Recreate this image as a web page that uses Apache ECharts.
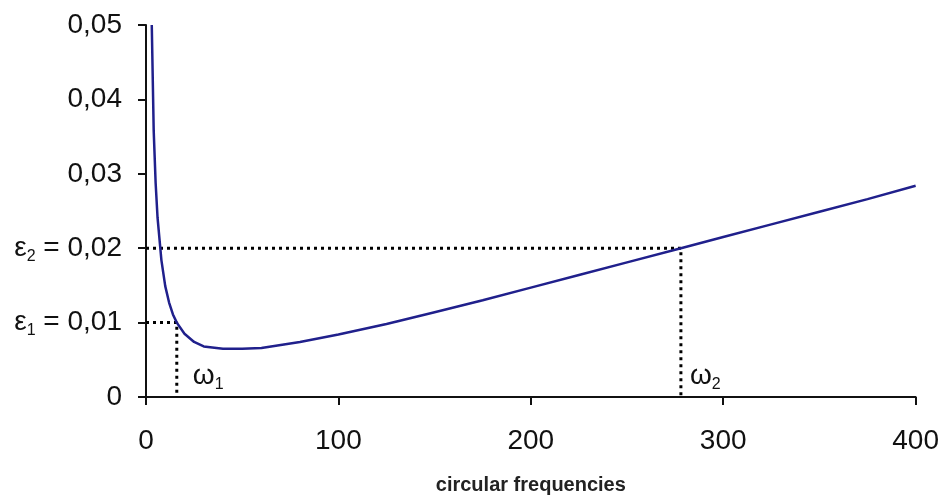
<!DOCTYPE html>
<html>
<head>
<meta charset="utf-8">
<style>
  html, body { margin: 0; padding: 0; background: #fff; }
  #chart { width: 942px; height: 500px; }
</style>
<script src="https://cdn.jsdelivr.net/npm/echarts@6/dist/echarts.min.js"></script>
</head>
<body>
<div id="chart"></div>
<script>
// values
const omega = [3, 4, 5, 6, 8, 10, 12, 14, 16, 20, 25, 30, 40, 50, 60, 80, 100, 125, 150, 175, 200, 225, 250, 278, 300, 325, 350, 375, 400];
const damping = [0.0500, 0.0358, 0.0288, 0.0241, 0.0184, 0.0149, 0.0127, 0.0111, 0.0100, 0.0085, 0.0074, 0.0068, 0.0065, 0.0065, 0.0066, 0.0074, 0.0084, 0.0098, 0.0114, 0.0130, 0.0147, 0.0164, 0.0181, 0.0200, 0.0215, 0.0232, 0.0249, 0.0266, 0.0284];

const omega1 = 16, eps1 = 0.01;
const omega2 = 278, eps2 = 0.02;
const omegaLabelY = 0.0028;

const fontFam = '"Liberation Sans", Arial, sans-serif';

function dotted(points) {
    return {
        type: 'line',
        data: points,
        symbol: 'none',
        silent: true,
        lineStyle: { color: '#000', width: 3, type: [3, 4] },
        z: 1
    };
}

const myChart = echarts.init(document.getElementById('chart'));

const rich = {
    e: { fontSize: 28, fontFamily: fontFam, color: '#111' },
    s: { fontSize: 16, fontFamily: fontFam, color: '#111', verticalAlign: 'bottom', padding: [16, 0, 0, 0] },
    n: { fontSize: 28, fontFamily: fontFam, color: '#111' }
};

const option = {
    animation: false,
    grid: { left: 146, right: 26, top: 25, bottom: 102 },
    xAxis: {
        type: 'value',
        min: 0,
        max: 400,
        interval: 100,
        name: 'circular frequencies',
        nameLocation: 'middle',
        nameGap: 78,
        nameTextStyle: { fontFamily: fontFam, fontSize: 20, fontWeight: 'bold', color: '#222' },
        axisLine: { lineStyle: { color: '#111', width: 2 } },
        axisTick: { length: 8, lineStyle: { color: '#111', width: 2 } },
        axisLabel: { fontFamily: fontFam, fontSize: 28, color: '#111', margin: 30 },
        splitLine: { show: false }
    },
    yAxis: {
        type: 'value',
        min: 0,
        max: 0.05,
        interval: 0.01,
        axisLine: { show: true, lineStyle: { color: '#111', width: 2 } },
        axisTick: { show: true, length: 8, lineStyle: { color: '#111', width: 2 } },
        axisLabel: {
            fontFamily: fontFam,
            fontSize: 28,
            color: '#111',
            margin: 24,
            rich: rich,
            formatter: function (v) {
                if (v === 0) return '{n|0}';
                const txt = v.toFixed(2).replace('.', ',');
                if (Math.abs(v - eps1) < 1e-9) return '{e|ε}{s|1}{n| = ' + txt + '}';
                if (Math.abs(v - eps2) < 1e-9) return '{e|ε}{s|2}{n| = ' + txt + '}';
                return '{n|' + txt + '}';
            }
        },
        splitLine: { show: false }
    },
    series: [
        dotted([[0, eps1], [omega1, eps1], [omega1, 0]]),
        dotted([[0, eps2], [omega2, eps2], [omega2, 0]]),
        {
            type: 'line',
            data: omega.map((w, i) => [w, damping[i]]),
            symbol: 'none',
            smooth: false,
            lineStyle: { color: '#20208c', width: 2.5 },
            z: 3
        },
        {
            type: 'scatter',
            symbolSize: 0,
            silent: true,
            data: [
                { value: [omega1, omegaLabelY], label: { formatter: '{e|ω}{s|1}', distance: 16 } },
                { value: [omega2, omegaLabelY], label: { formatter: '{e|ω}{s|2}', distance: 9 } }
            ],
            label: { show: true, position: 'right', color: '#111', opacity: 1, rich: rich },
            itemStyle: { opacity: 1 }
        }
    ]
};

myChart.setOption(option);

window.addEventListener('resize', () => {
    myChart.resize();
});
</script>
</body>
</html>
